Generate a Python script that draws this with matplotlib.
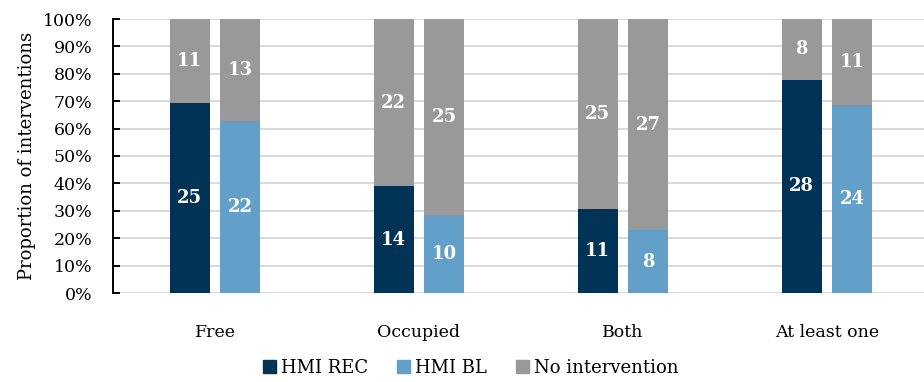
import matplotlib.pyplot as plt
import numpy as np

plt.rcParams["font.family"] = ["DejaVu Serif"]

categories = ["Free", "Occupied", "Both", "At least one"]
rec_yes = [25, 14, 11, 28]
rec_no = [11, 22, 25, 8]
bl_yes = [22, 10, 8, 24]
bl_no = [13, 25, 27, 11]

c_rec = "#003355"
c_bl = "#62a0c9"
c_none = "#999999"

fig = plt.figure(figsize=(9.24, 3.82), dpi=100)
ax = fig.add_axes([113 / 924, 1 - 293 / 382, 816 / 924, 274 / 382])

x = np.arange(len(categories))
w = 0.196
off = 0.124


def stack(xpos, yes, no, color):
    yes = np.array(yes, float)
    no = np.array(no, float)
    tot = yes + no
    py = yes / tot
    pn = no / tot
    ax.bar(xpos, py, w, color=color, zorder=2)
    ax.bar(xpos, pn, w, bottom=py, color=c_none, zorder=2)
    for xi, a, b, ya, yb in zip(xpos, yes, no, py, pn):
        ax.text(xi, ya / 2, f"{int(a)}", ha="center", va="center",
                color="white", fontsize=13, fontweight="bold")
        ax.text(xi, ya + yb / 2, f"{int(b)}", ha="center", va="center",
                color="white", fontsize=13, fontweight="bold")


stack(x - off, rec_yes, rec_no, c_rec)
stack(x + off, bl_yes, bl_no, c_bl)

ax.set_xlim(-0.5, 3.5)
ax.set_ylim(0, 1)
ticks = np.arange(0, 1.01, 0.1)
ax.set_yticks(ticks)
ax.set_yticklabels([f"{int(round(v * 100))}%" for v in ticks])
ax.yaxis.grid(True, color="#d9d9d9", linewidth=1.4, zorder=0)
ax.set_axisbelow(True)
ax.set_xticks(x)
ax.set_xticklabels(categories)
ax.tick_params(axis="x", length=0, pad=22, labelsize=12.5)
ax.tick_params(axis="y", length=5, width=1.4, direction="in", labelsize=12.5, pad=15)
for s in ["top", "right", "bottom"]:
    ax.spines[s].set_visible(False)
ax.spines["left"].set_linewidth(1.4)
ax.set_ylabel("Proportion of interventions", fontsize=13, labelpad=5)

handles = [plt.Rectangle((0, 0), 1, 1, color=c) for c in (c_rec, c_bl, c_none)]
fig.legend(handles, ["HMI REC", "HMI BL", "No intervention"], loc="center",
           bbox_to_anchor=(471 / 924, 1 - 368 / 382), ncol=3, frameon=False,
           fontsize=13, handlelength=0.7, handleheight=0.7, handletextpad=0.3,
           columnspacing=1.6)

fig.savefig("out.png", dpi=100)
